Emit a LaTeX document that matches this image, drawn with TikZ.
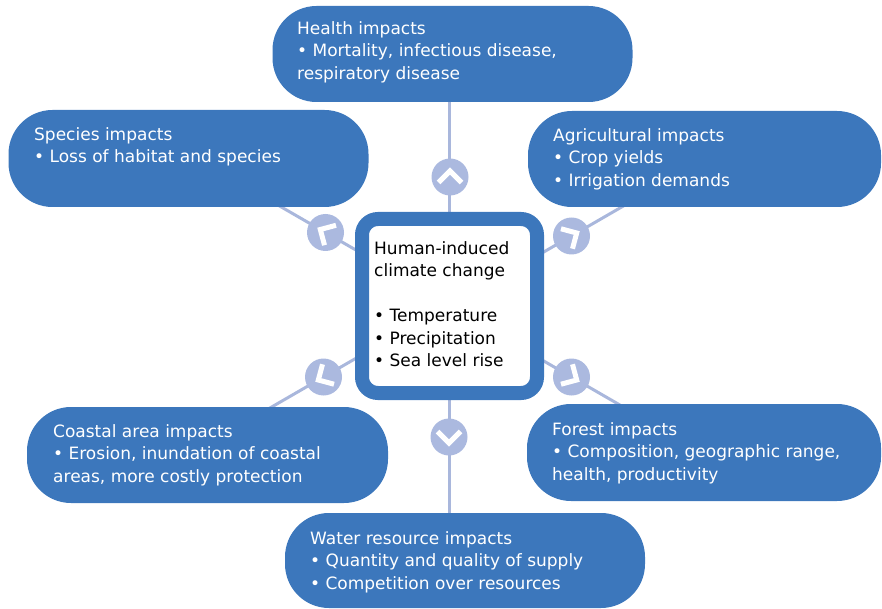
\documentclass[tikz,border=0pt]{standalone}
\usepackage{fontspec}
\setmainfont{DejaVu Sans}
\definecolor{boxblue}{HTML}{3C77BC}
\definecolor{hubblue}{HTML}{ABB9DF}
\definecolor{linkblue}{HTML}{A9B7DC}
\newcommand\lineone{\rule{0pt}{14pt}}
\begin{document}
\begin{tikzpicture}[x=1pt,y=-1pt,
  impact/.style={rectangle, fill=boxblue, rounded corners=44pt, inner sep=0pt},
  core/.style={rectangle, draw=boxblue, line width=14pt, fill=white, rounded corners=16pt, inner sep=0pt,
    minimum width=175pt, minimum height=174pt},
  hub/.style={circle, fill=hubblue, minimum size=37pt, inner sep=0pt},
  link/.style={draw=linkblue, line width=3pt},
  label/.style={anchor=north west, inner sep=0pt, align=left, text=white,
    font=\fontsize{17}{22.5}\selectfont},
  chevron/.pic={\draw[white, line width=5pt, line cap=butt, line join=miter]
    (-11.5,5.5) -- (0,-6) -- (11.5,5.5);}
]
\useasboundingbox (0,0) rectangle (882,609);

% connector end points
\coordinate (n-out) at (449.5,90);
\coordinate (n-in)  at (449.5,225);
\coordinate (s-out) at (449.5,525);
\coordinate (s-in)  at (449.5,390);
\coordinate (nw-out) at (273.5,202.5);
\coordinate (nw-in)  at (364.5,255);
\coordinate (ne-out) at (632,201);
\coordinate (ne-in)  at (532.5,258.5);
\coordinate (sw-out) at (263,412);
\coordinate (sw-in)  at (362.5,354.5);
\coordinate (se-out) at (632,412);
\coordinate (se-in)  at (532.5,354.5);

\draw[link] (n-out) -- (n-in);
\draw[link] (s-out) -- (s-in);
\draw[link] (nw-out) -- (nw-in);
\draw[link] (ne-out) -- (ne-in);
\draw[link] (sw-out) -- (sw-in);
\draw[link] (se-out) -- (se-in);

% outer impact boxes
\node[impact, minimum width=360pt, minimum height=96pt] (health) at (452.5,54) {};
\node[impact, minimum width=360pt, minimum height=97pt] (species) at (188.5,158.5) {};
\node[impact, minimum width=353pt, minimum height=96pt] (agri) at (704.5,159) {};
\node[impact, minimum width=361pt, minimum height=96pt] (coast) at (207.5,455) {};
\node[impact, minimum width=354pt, minimum height=97pt] (forest) at (704,452.5) {};
\node[impact, minimum width=360pt, minimum height=95pt] (water) at (465,560.5) {};

% central box
\node[core] (climate) at (449.5,306) {};

% hubs with chevrons
\node[hub] (hub-n)  at (450,177) {};
\node[hub] (hub-s)  at (449,437) {};
\node[hub] (hub-nw) at (325.5,232.5) {};
\node[hub] (hub-ne) at (571.5,236) {};
\node[hub] (hub-sw) at (323.5,377) {};
\node[hub] (hub-se) at (571.5,377) {};
\pic at (hub-n) {chevron};
\pic[rotate=180] at (hub-s) {chevron};
\pic[rotate=60] at (hub-nw) {chevron};
\pic[rotate=-60] at (hub-ne) {chevron};
\pic[rotate=120] at (hub-sw) {chevron};
\pic[rotate=-120] at (hub-se) {chevron};

% texts
\node[label] (health-t) at (297,20) {\lineone Health impacts\\• Mortality, infectious disease,\\respiratory disease};
\node[label] (species-t) at (34,126) {\lineone Species impacts\\• Loss of habitat and species};
\node[label] (agri-t) at (553,127) {\lineone Agricultural impacts\\• Crop yields\\• Irrigation demands};
\node[label] (coast-t) at (53,423) {\lineone Coastal area impacts\\• Erosion, inundation of coastal\\areas, more costly protection};
\node[label] (forest-t) at (552,421) {\lineone Forest impacts\\• Composition, geographic range,\\health, productivity};
\node[label] (water-t) at (310,530) {\lineone Water resource impacts\\• Quantity and quality of supply\\• Competition over resources};
\node[label, text=black] (climate-t) at (374,240) {\lineone Human-induced\\climate change\\[22.5pt]• Temperature\\• Precipitation\\• Sea level rise};
\end{tikzpicture}
\end{document}
